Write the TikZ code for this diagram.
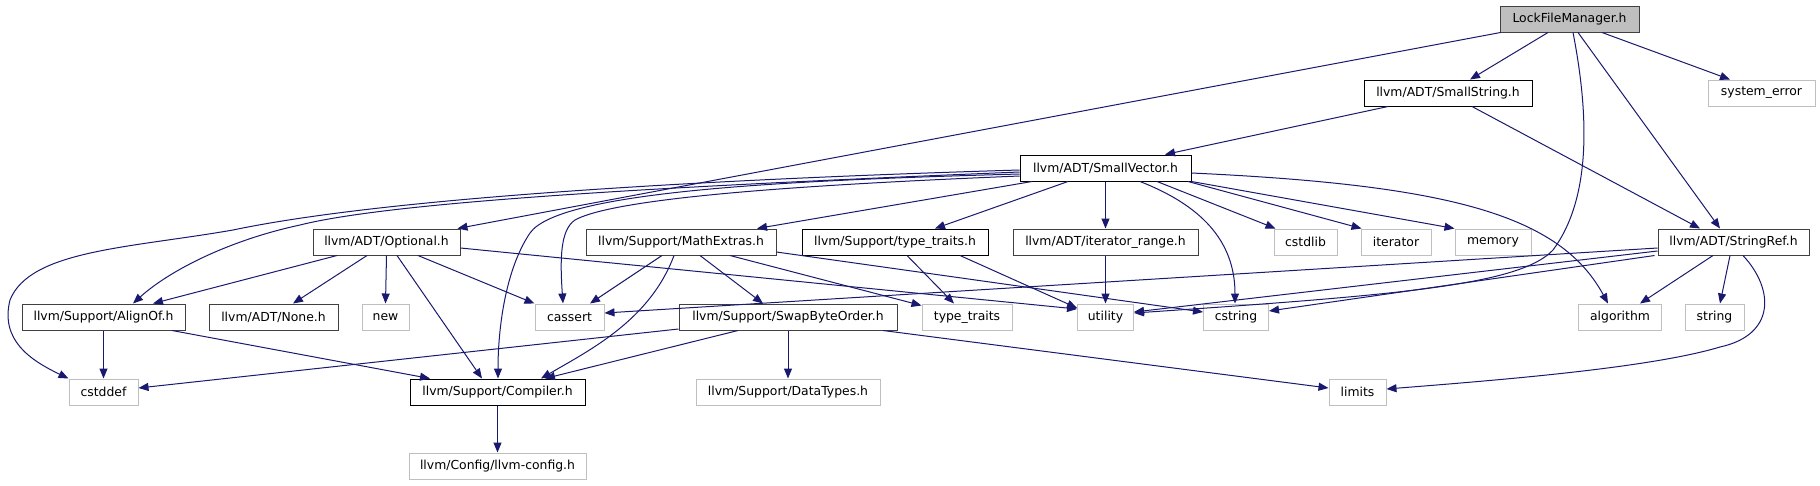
\documentclass[tikz,border=0pt]{standalone}
\usepackage{fontspec}
\setmainfont{DejaVu Sans}
\usetikzlibrary{arrows.meta}
\definecolor{edgeblue}{HTML}{191970}
\definecolor{leafgray}{HTML}{BFBFBF}
\definecolor{docgray}{HTML}{404040}
\definecolor{rootfill}{HTML}{BFBFBF}
\begin{document}
\begin{tikzpicture}[x=1pt,y=-1pt,
  box/.style={draw=docgray, line width=1pt, inner sep=0pt, minimum height=26pt,
    font=\fontsize{12.4pt}{14pt}\selectfont, text=black},
  blk/.style={box, draw=black},
  leaf/.style={box, draw=leafgray},
  dep/.style={draw=edgeblue, line width=1pt, -{Triangle[length=10pt,width=8pt]}}]
\fill[white] (0,0) rectangle (1820,485);
\useasboundingbox (0,0) rectangle (1820,485);

% nodes
\node[box, fill=rootfill, minimum width=139pt] (lfm) at (1569.5,19) {LockFileManager.h};
\node[blk, minimum width=168pt] (sstr) at (1448,93) {llvm/ADT/SmallString.h};
\node[leaf, minimum width=107pt] (syserr) at (1761.5,93) {system\_error};
\node[blk, minimum width=171pt] (svec) at (1105.5,168) {llvm/ADT/SmallVector.h};
\node[box, minimum width=147pt] (opt) at (386.5,242) {llvm/ADT/Optional.h};
\node[box, minimum width=190pt] (math) at (681,242) {llvm/Support/MathExtras.h};
\node[blk, minimum width=186pt] (tth) at (895,242) {llvm/Support/type\_traits.h};
\node[box, minimum width=185pt] (itr) at (1105.5,242) {llvm/ADT/iterator\_range.h};
\node[leaf, minimum width=63pt] (cstdlib) at (1305.5,242) {cstdlib};
\node[leaf, minimum width=70pt] (iterator) at (1396,242) {iterator};
\node[leaf, minimum width=76pt] (memory) at (1493,242) {memory};
\node[box, minimum width=151pt] (sref) at (1733.5,242) {llvm/ADT/StringRef.h};
\node[box, minimum width=163pt] (align) at (103.5,317) {llvm/Support/AlignOf.h};
\node[box, minimum width=129pt] (none) at (273.5,317) {llvm/ADT/None.h};
\node[leaf, minimum width=47pt] (new) at (385.5,317) {new};
\node[leaf, minimum width=69pt] (cassert) at (569.5,317) {cassert};
\node[box, minimum width=218pt] (swap) at (788,317) {llvm/Support/SwapByteOrder.h};
\node[leaf, minimum width=90pt] (tt) at (967,317) {type\_traits};
\node[leaf, minimum width=56pt] (utility) at (1105.5,317) {utility};
\node[leaf, minimum width=65pt] (cstring) at (1236,317) {cstring};
\node[leaf, minimum width=83pt] (algorithm) at (1620,317) {algorithm};
\node[leaf, minimum width=59pt] (string) at (1714.5,317) {string};
\node[leaf, minimum width=69pt] (cstddef) at (103.5,392) {cstddef};
\node[blk, minimum width=175pt] (compiler) at (497.5,392) {llvm/Support/Compiler.h};
\node[leaf, minimum width=184pt] (datatypes) at (788,392) {llvm/Support/DataTypes.h};
\node[leaf, minimum width=57pt] (limits) at (1357.5,392) {limits};
\node[leaf, minimum width=177pt] (config) at (497.5,466) {llvm/Config/llvm-config.h};

% LockFileManager.h
\draw[dep] ([xshift=1pt]lfm.south west) -- ([xshift=-3pt]opt.north east);
\draw[dep] ([xshift=-21.5pt]lfm.south) -- ([xshift=22pt]sstr.north);
\draw[dep] ([xshift=32.5pt]lfm.south) -- ([xshift=-31.5pt]syserr.north);
\draw[dep] ([xshift=8.5pt]lfm.south) -- ([xshift=-13.5pt]sref.north);
\draw[dep] ([xshift=3.5pt]lfm.south) .. controls (1590,120) and (1590,200) .. (1553,250)
  .. controls (1520,285) and (1400,295) .. ([yshift=4pt]utility.east);

% SmallString.h
\draw[dep] ([xshift=-60pt]sstr.south) -- ([xshift=59.5pt]svec.north);
\draw[dep] ([xshift=24pt]sstr.south) -- ([xshift=-33.5pt]sref.north);

% SmallVector.h
\draw[dep] (svec.south) -- (itr.north);
\draw[dep] ([xshift=51.5pt]svec.south) -- ([xshift=-30pt]cstdlib.north);
\draw[dep] ([xshift=82.5pt]svec.south) -- ([xshift=1pt]iterator.north west);
\draw[dep] (svec.south east) -- (memory.north west);
\draw[dep] ([yshift=-5pt]svec.east) .. controls (1450,185) and (1560,215) .. ([xshift=-12pt]algorithm.north);
\draw[dep] ([xshift=34.5pt]svec.south) .. controls (1200,205) and (1235,240) .. ([xshift=-1pt]cstring.north);
\draw[dep] ([xshift=-37.5pt]svec.south) -- ([xshift=40pt]tth.north);
\draw[dep] ([xshift=-73.5pt]svec.south) -- ([xshift=76pt]math.north);
\draw[dep] ([yshift=-8pt]svec.west) .. controls (850,183) and (620,195) .. (575,220)
  .. controls (560,230) and (560,260) .. ([xshift=-6.5pt]cassert.north);
\draw[dep] ([yshift=-6pt]svec.west) .. controls (800,180) and (560,190) .. (530,233)
  .. controls (505,270) and (498,330) .. ([xshift=0.5pt]compiler.north);
\draw[dep] ([yshift=-4pt]svec.west) .. controls (700,185) and (400,200) .. (300,225)
  .. controls (230,240) and (170,270) .. ([xshift=29.5pt]align.north);
\draw[dep] ([yshift=-2pt]svec.west) .. controls (750,178) and (400,195) .. (233,230)
  .. controls (130,248) and (30,250) .. (10,300)
  .. controls (0,340) and (30,360) .. (cstddef.north west);

% Optional.h
\draw[dep] ([xshift=-49.5pt]opt.south) -- ([xshift=49.5pt]align.north);
\draw[dep] ([xshift=-19.5pt]opt.south) -- ([xshift=19.5pt]none.north);
\draw[dep] (opt.south) -- (new.north);
\draw[dep] ([xshift=10.5pt]opt.south) -- ([xshift=-15.5pt]compiler.north);
\draw[dep] ([xshift=31.5pt]opt.south) -- (cassert.north west);
\draw[dep] ([yshift=-6pt]opt.east) -- ([yshift=8pt]utility.west);

% MathExtras.h
\draw[dep] ([xshift=-19pt]math.south) -- ([xshift=20.5pt]cassert.north);
\draw[dep] ([xshift=-7pt]math.south) .. controls (650,320) and (590,350) .. ([xshift=43.5pt]compiler.north);
\draw[dep] ([xshift=19pt]math.south) -- ([xshift=-25pt]swap.north);
\draw[dep] ([xshift=49pt]math.south) -- ([yshift=-2pt]tt.north west);
\draw[dep] ([yshift=-10pt]math.east) -- ([yshift=5pt]cstring.west);

% type_traits.h
\draw[dep] ([xshift=12pt]tth.south) -- ([xshift=-13pt]tt.north);
\draw[dep] ([xshift=65pt]tth.south) -- ([yshift=9pt]utility.west);

% iterator_range.h
\draw[dep] (itr.south) -- (utility.north);

% StringRef.h
\draw[dep] ([xshift=-20.5pt]sref.south) -- ([xshift=20pt]algorithm.north);
\draw[dep] ([xshift=-3.5pt]sref.south) -- ([xshift=5.5pt]string.north);
\draw[dep] ([xshift=9.5pt]sref.south) .. controls (1775,290) and (1775,335) .. (1720,347)
  .. controls (1650,368) and (1500,380) .. ([yshift=3pt]limits.east);
\draw[dep] ([yshift=-6pt]sref.west) -- ([yshift=4pt]cassert.east);
\draw[dep] ([yshift=-9pt]sref.west) -- ([yshift=5pt]utility.east);
\draw[dep] ([xshift=-3pt]sref.south west) -- ([yshift=6pt]cstring.east);

% AlignOf.h
\draw[dep] (align.south) -- (cstddef.north);
\draw[dep] ([xshift=68.5pt]align.south) -- ([xshift=-67.5pt]compiler.north);

% SwapByteOrder.h
\draw[dep] ([yshift=-12pt]swap.west) -- ([yshift=4pt]cstddef.east);
\draw[dep] ([xshift=-50pt]swap.south) -- ([xshift=47.5pt]compiler.north);
\draw[dep] (swap.south) -- (datatypes.north);
\draw[dep] ([xshift=95pt]swap.south) -- ([yshift=4pt]limits.west);

% Compiler.h
\draw[dep] (compiler.south) -- (config.north);
\end{tikzpicture}
\end{document}
